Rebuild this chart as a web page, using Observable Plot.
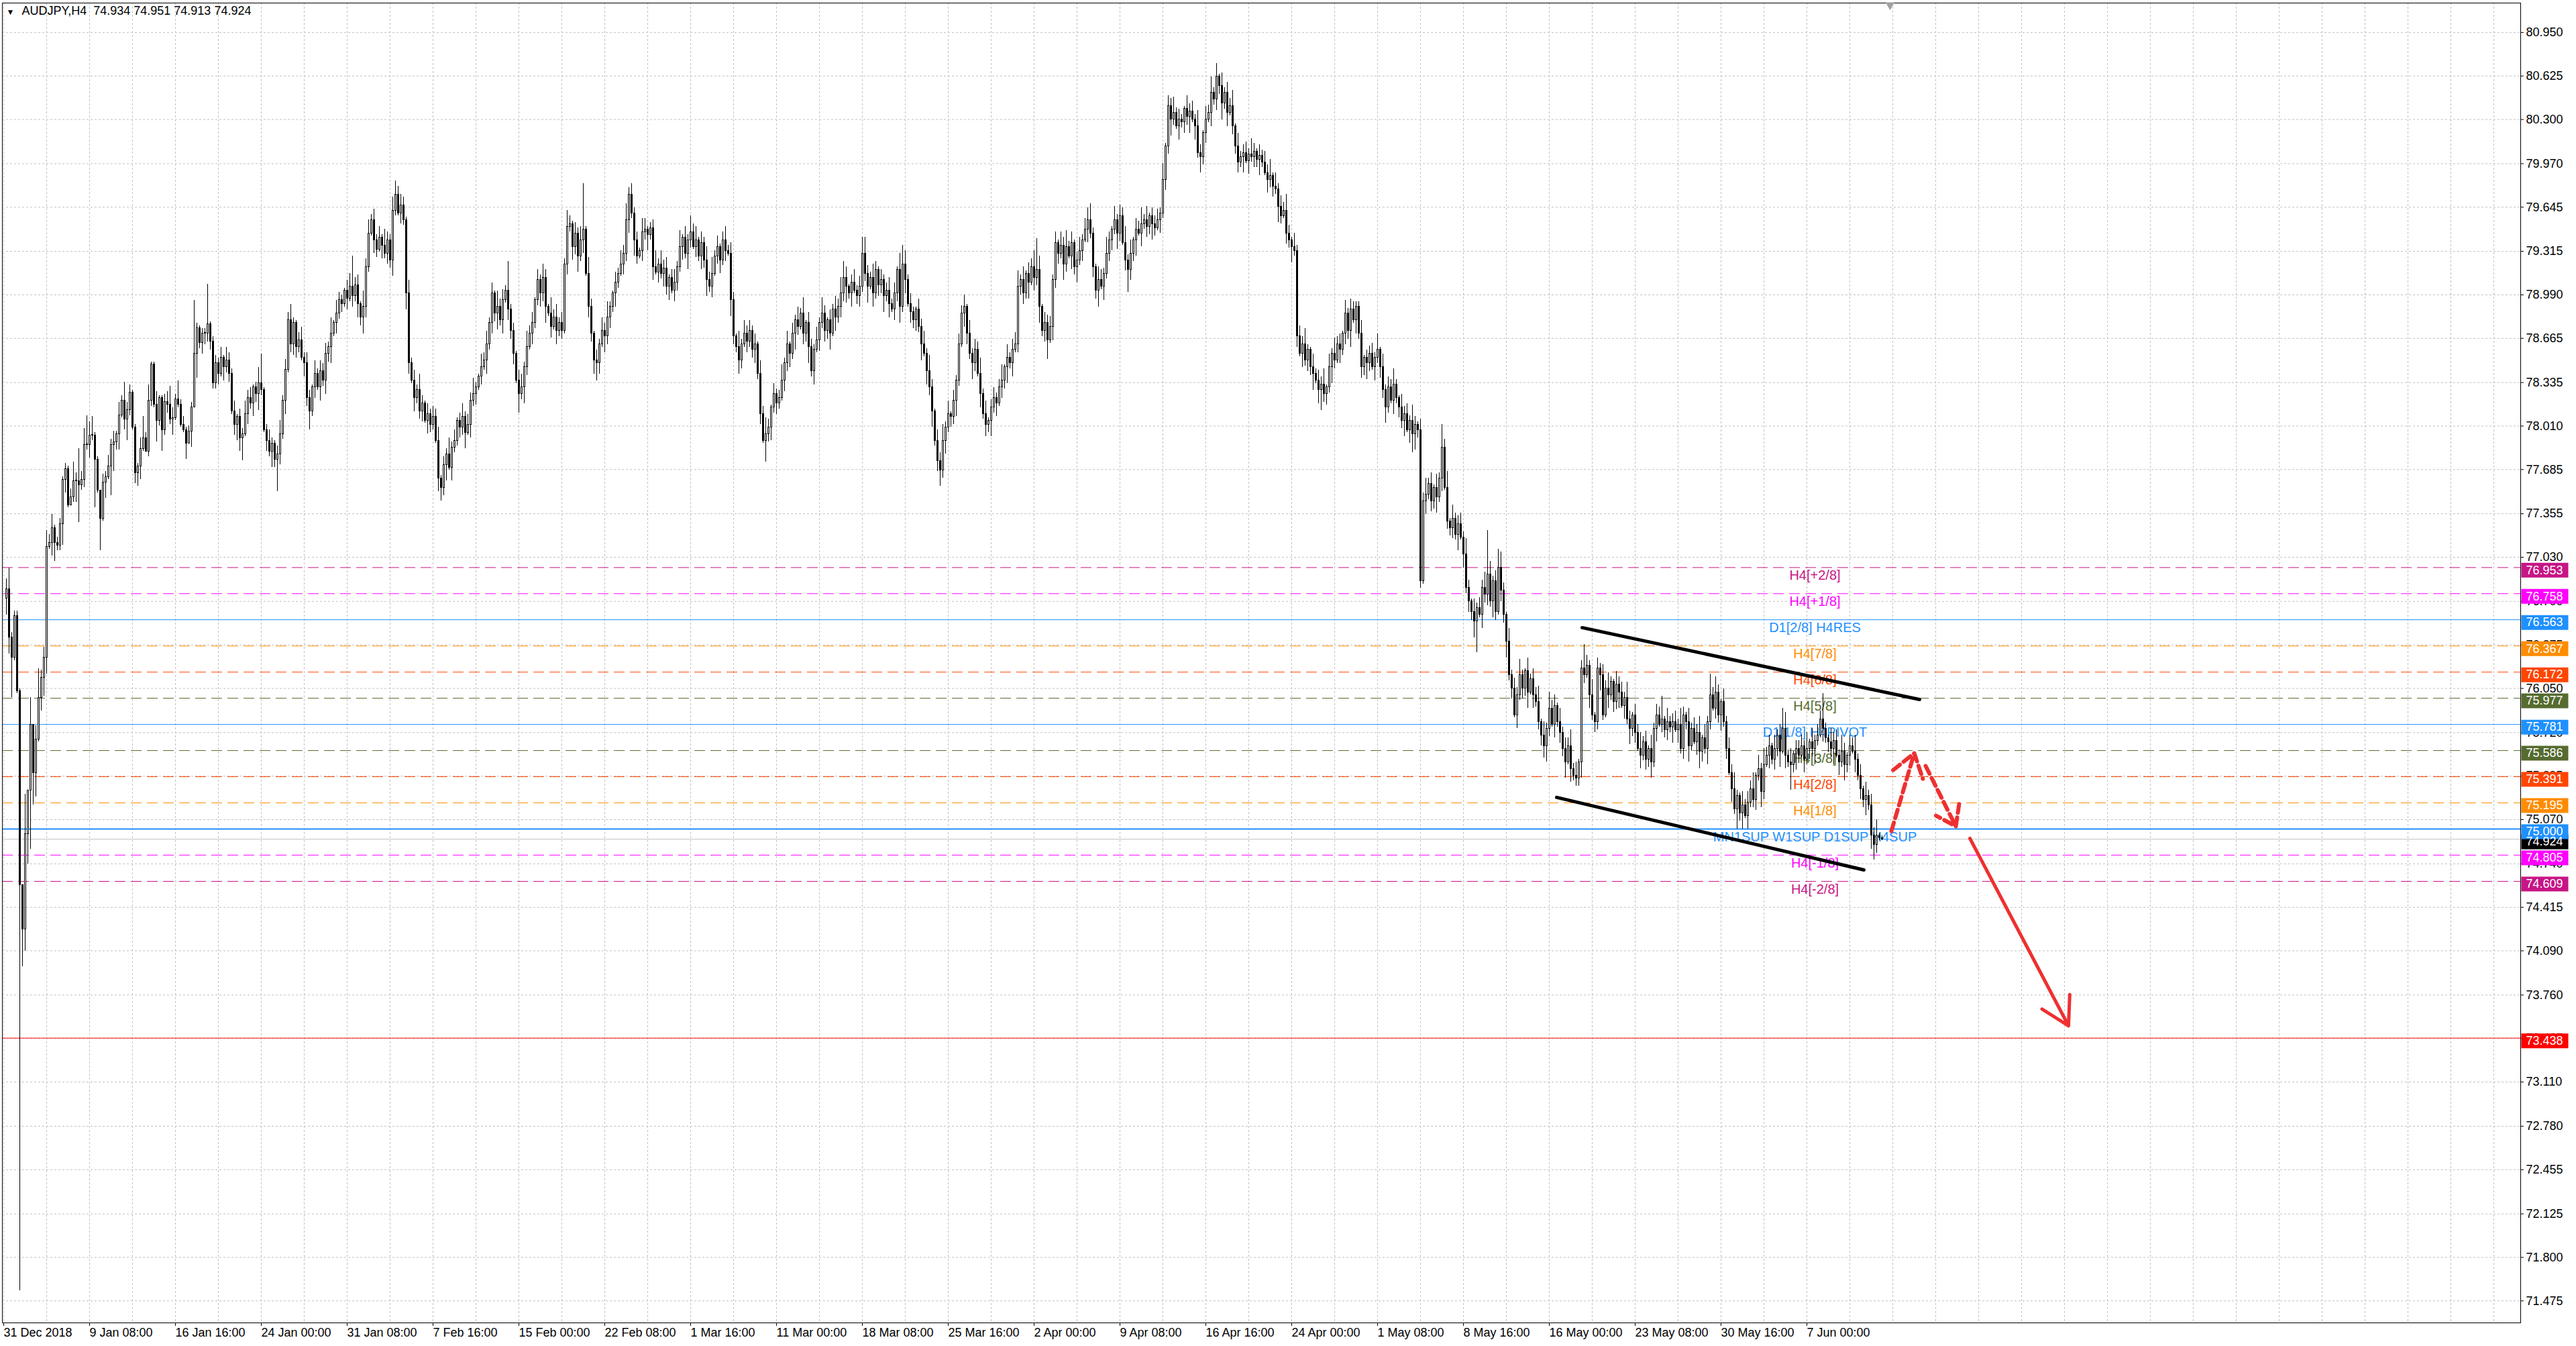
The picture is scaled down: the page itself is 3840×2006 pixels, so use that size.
<!DOCTYPE html>
<html><head><meta charset="utf-8">
<script src="https://cdn.jsdelivr.net/npm/d3@7"></script>
<script src="https://cdn.jsdelivr.net/npm/@observablehq/plot@0.6"></script>
<style>html,body{margin:0;padding:0;background:#fff;overflow:hidden}#chart svg{display:block}</style>
</head><body><div id="chart"></div><script>
// ---------------- DATA ----------------
const symbolTitle = "AUDJPY,H4";
const lastBarOHLC = [74.934, 74.951, 74.913, 74.924];
const firstOpen = 76.72;
const closes = [
76.79,76.43,76.28,76.59,76.03,74.58,74.25,74.96,75.29,75.78,
75.42,75.67,75.98,76.13,76.28,77.11,77.14,77.25,77.14,77.12,
77.28,77.61,77.69,77.42,77.48,77.60,77.60,77.57,77.61,77.87,
77.87,77.94,77.94,77.76,77.53,77.32,77.59,77.63,77.71,77.87,
77.89,77.95,78.09,78.20,78.06,78.13,78.26,78.00,77.66,77.71,
77.84,77.92,77.82,78.20,78.47,78.17,78.05,78.22,77.98,78.19,
78.17,78.06,78.07,78.21,78.17,78.02,77.98,77.88,77.97,78.15,
78.55,78.74,78.63,78.70,78.70,78.77,78.64,78.33,78.48,78.40,
78.52,78.45,78.50,78.40,78.12,78.02,78.08,77.92,77.95,78.10,
78.22,78.18,78.30,78.25,78.33,78.28,77.98,77.90,77.82,77.88,
77.76,77.80,77.95,78.20,78.43,78.80,78.62,78.78,78.60,78.65,
78.52,78.48,78.22,78.12,78.30,78.40,78.30,78.42,78.35,78.55,
78.60,78.70,78.78,78.85,78.95,78.92,79.02,78.96,79.05,78.98,
79.06,78.92,78.82,78.90,79.20,79.45,79.55,79.40,79.33,79.42,
79.36,79.30,79.40,79.25,79.62,79.74,79.60,79.66,79.55,79.00,
78.48,78.35,78.22,78.28,78.12,78.18,78.05,78.10,78.02,78.08,
77.90,77.62,77.55,77.72,77.80,77.70,77.85,77.90,78.05,78.00,
78.08,77.96,78.02,78.20,78.25,78.30,78.38,78.45,78.50,78.62,
78.78,79.00,78.85,78.90,78.80,78.95,79.02,78.88,78.72,78.55,
78.35,78.25,78.30,78.45,78.60,78.70,78.78,78.95,79.10,79.00,
79.12,78.90,78.85,78.75,78.82,78.72,78.78,78.72,79.22,79.50,
79.52,79.35,79.45,79.28,79.40,79.48,79.15,78.90,78.70,78.50,
78.48,78.62,78.72,78.68,78.82,78.90,79.00,79.08,79.15,79.22,
79.30,79.55,79.74,79.60,79.40,79.28,79.32,79.46,79.48,79.44,
79.49,79.20,79.16,79.22,79.15,79.19,79.05,79.12,79.02,79.08,
79.20,79.35,79.42,79.30,79.40,79.46,79.35,79.40,79.28,79.38,
79.25,79.10,79.05,79.15,79.28,79.35,79.25,79.40,79.32,79.30,
78.95,78.68,78.60,78.50,78.62,78.70,78.64,78.72,78.58,78.62,
78.40,78.10,77.90,77.95,78.00,78.15,78.25,78.18,78.22,78.35,
78.48,78.62,78.55,78.70,78.80,78.75,78.85,78.70,78.78,78.60,
78.42,78.58,78.65,78.78,78.85,78.72,78.80,78.70,78.88,78.82,
78.90,79.00,79.12,79.05,79.00,79.08,79.02,78.98,79.05,79.30,
79.15,79.05,79.12,79.00,79.18,79.06,79.10,78.98,79.02,78.92,
78.88,79.00,79.18,78.90,79.22,79.10,78.92,78.86,78.80,78.88,
78.75,78.62,78.55,78.42,78.30,78.12,77.90,77.75,77.68,77.90,
78.00,78.10,78.08,78.20,78.35,78.62,78.85,78.90,78.70,78.55,
78.48,78.58,78.40,78.25,78.10,78.02,78.05,78.15,78.22,78.18,
78.30,78.35,78.45,78.52,78.48,78.58,78.62,79.05,79.10,79.00,
79.15,79.08,79.20,79.12,79.18,78.90,78.72,78.78,78.65,78.75,
79.10,79.38,79.30,79.36,79.22,79.35,79.28,79.38,79.20,79.25,
79.32,79.40,79.48,79.55,79.45,79.20,79.02,79.10,79.05,79.15,
79.30,79.40,79.48,79.55,79.45,79.58,79.38,79.25,79.18,79.30,
79.40,79.48,79.45,79.52,79.55,79.50,79.58,79.52,79.49,79.55,
79.60,79.85,80.10,80.40,80.30,80.35,80.25,80.30,80.28,80.38,
80.32,80.36,80.30,80.25,80.05,80.02,80.20,80.30,80.35,80.50,
80.45,80.62,80.55,80.42,80.50,80.35,80.40,80.25,80.10,79.98,
80.02,80.05,79.99,80.04,80.02,80.06,80.00,80.03,79.98,79.90,
79.85,79.88,79.80,79.78,79.65,79.58,79.62,79.45,79.40,79.35,
79.32,78.68,78.55,78.62,78.50,78.58,78.45,78.40,78.35,78.28,
78.32,78.25,78.30,78.45,78.55,78.50,78.62,78.58,78.70,78.85,
78.72,78.88,78.80,78.90,78.70,78.45,78.52,78.48,78.55,78.45,
78.52,78.58,78.45,78.28,78.15,78.30,78.20,78.32,78.22,78.15,
78.05,78.10,77.98,78.05,77.95,78.02,77.98,76.85,77.45,77.50,
77.58,77.45,77.55,77.48,77.62,77.85,77.55,77.30,77.25,77.32,
77.20,77.28,77.18,77.05,76.80,76.70,76.62,76.55,76.65,76.60,
76.80,76.75,76.90,76.70,76.85,76.62,76.95,76.78,76.60,76.40,
76.15,76.05,75.85,76.00,76.15,76.05,76.18,76.02,76.12,76.00,
75.95,75.80,75.70,75.62,75.75,75.90,75.78,75.92,75.80,75.72,
75.60,75.50,75.62,75.45,75.40,75.38,75.50,76.20,76.15,76.22,
76.00,75.85,75.80,76.20,76.15,75.85,76.05,76.00,76.10,75.95,
76.08,76.02,75.92,75.98,75.82,75.75,75.85,75.72,75.60,75.55,
75.65,75.52,75.60,75.50,75.75,75.85,75.78,75.82,75.74,75.80,
75.76,75.80,75.74,75.78,75.60,75.85,75.80,75.62,75.75,75.65,
75.72,75.58,75.68,75.60,75.80,76.00,75.90,76.02,75.85,75.95,
75.80,75.60,75.42,75.30,75.15,75.25,75.12,75.18,75.10,75.20,
75.30,75.22,75.40,75.45,75.28,75.48,75.55,75.62,75.52,75.60,
75.70,75.58,75.75,75.55,75.50,75.48,75.56,75.60,75.55,75.62,
75.52,75.60,75.65,75.60,75.66,75.70,75.82,75.75,75.68,75.65,
75.60,75.66,75.55,75.50,75.58,75.48,75.55,75.62,75.58,75.52,
75.40,75.30,75.22,75.25,75.18,74.95,74.88,74.95,74.934,74.924
];
// wick lengths per candle, base-36 digits in units of 0.02
const upWickDigits = [
"4822210f0a","05b3463512","2121373c36","b571103242","4152733111","4826115113","4742723122","k2122f12",
"3241532413","2534126312","4213524362","1352431524","3426153214","5234163524","2416325134","3152426314",
"2435132624","1352436215","3524163425","2314526341","4253163524","2631425316","3142536214","2536142315",
"4123625341","3526142635","1425362413","5243162534","2415363142","3625142536","1432526314","2536241352",
"4163253142","3524163524","2143526314","3625142436","1524362513","4236152436","2514362514","3426153624",
"1352436215","4263152436","2514362513","3426153624","2153426315","3624152436","1523426314","2436152436",
"3152436215","2436152634","1524362513","3426152436","2153426314","3624152436","1523426315","2436152436",
"3152436215","2436152634","1524362513","3426152436","2153426314","3624152436","1523426315","2436152436",
"3152436215","2436152634","1524362513","3426152436","2153426314","3624152436","11"
].join("");
const downWickDigits = [
"66f110e8bm","c915761572","2851028e23","252i1c161b","a361482145","5102218282","3261111606","09244332",
"2415231425","3142536214","2631425134","4215362415","2536142314","1425364215","3152436214","2641523415",
"3215436152","2436152413","1524362514","3415263142","2536141523","1425362514","3524163425","2143526314",
"3625142536","1432526314","2536241352","4163253142","3524163524","2143526314","3625142436","1524362513",
"4236152436","2514362514","3426153624","1352436215","4263152436","2514362513","3426153624","2153426315",
"3624152436","1523426314","2436152436","3152436215","2436152634","1524362513","3426152436","2153426314",
"3624152436","1523426315","2436152436","3152436215","2436152634","1524362513","3426152436","2153426314",
"3624152436","1523426315","2436152436","3152436215","2436152634","1524362513","3426152436","2153426314",
"3624152436","1523426315","2436152436","3152436215","2436152634","1524362513","11"
].join("");
// notable spikes [candle index, price]
const highSpikes = [[95,78.55],[129,79.28],[145,79.84],[187,79.24],[215,79.82],[232,79.79],[296,78.89],[312,79.24],
 [319,79.42],[334,79.36],[357,78.99],[376,78.71],[384,79.41],[391,79.46],[403,79.64],[433,80.48],[451,80.72],
 [503,78.94],[535,78.02],[552,77.23],[556,77.09],[588,76.38],[593,76.28],[617,75.99],[635,76.16],[662,75.90],
 [677,76.01],[699,74.951]];
const lowSpikes = [[5,71.55],[86,77.90],[88,77.75],[101,77.52],[113,77.98],[162,77.45],[191,78.11],[220,78.35],
 [247,78.95],[283,77.74],[348,77.56],[365,77.93],[388,78.51],[418,79.01],[445,79.90],[490,78.13],[524,77.81],
 [527,76.80],[548,76.32],[573,75.53],[585,75.32],[631,75.45],[645,75.00],[665,75.29],[696,74.77],[699,74.913]];

const xTickLabels = ["31 Dec 2018","9 Jan 08:00","16 Jan 16:00","24 Jan 00:00","31 Jan 08:00","7 Feb 16:00",
 "15 Feb 00:00","22 Feb 08:00","1 Mar 16:00","11 Mar 00:00","18 Mar 08:00","25 Mar 16:00","2 Apr 00:00",
 "9 Apr 08:00","16 Apr 16:00","24 Apr 00:00","1 May 08:00","8 May 16:00","16 May 00:00","23 May 08:00",
 "30 May 16:00","7 Jun 00:00"];
const yTickValues = [80.950,80.625,80.300,79.970,79.645,79.315,78.990,78.665,78.335,78.010,77.685,77.355,
 77.030,76.700,76.375,76.050,75.720,75.395,75.070,74.740,74.415,74.090,73.760,73.435,73.110,72.780,72.455,
 72.125,71.800,71.475];

const levelPrices = [76.953,76.758,76.563,76.367,76.172,75.977,75.781,75.586,75.391,75.195,75.000,74.805,74.609];
const levelLabels = ["H4[+2/8]","H4[+1/8]","D1[2/8] H4RES","H4[7/8]","H4[6/8]","H4[5/8]","D1[1/8] H4PIVOT",
 "H4[3/8]","H4[2/8]","H4[1/8]","MN1SUP W1SUP D1SUP H4SUP","H4[-1/8]","H4[-2/8]"];
const currentPrice = 74.924;
const targetPrice = 73.438;
const chartShiftBar = [703];
// channel lines and forecast arrows, in (bar position, price)
const channelLines = [
 {x1: 588.25, y1: 76.504, x2: 714, y2: 75.967},
 {x1: 578.75, y1: 75.236, x2: 693.25, y2: 74.694}
];
const dashedArrows = [
 {x1: 703.5, y1: 74.985, x2: 712, y2: 75.566},
 {x1: 716.25, y1: 75.471, x2: 727.5, y2: 75.02}
];
const solidArrows = [
 {x1: 732.75, y1: 74.93, x2: 769.5, y2: 73.53}
];

// ---------------- STYLE ----------------
const levelColors = ["#c71585","#ff00ff","#1e90ff","#ff8c00","#ff4500","#556b2f","#1e90ff","#556b2f",
 "#ff4500","#ff8c00","#1e90ff","#ff00ff","#c71585"];
const levelSolid = [false,false,true,false,false,false,true,false,false,false,true,false,false];
const font = "'Liberation Sans', Arial, sans-serif";
const gridColor = "#c0c0c0";
const arrowColor = "#ee3030";
const labelBar = 675;      // bar position where level captions are centred
const barsPerLabel = 32, barsPerGrid = 16;

// ---------------- BUILD ----------------
const hiMap = new Map(highSpikes), loMap = new Map(lowSpikes);
const candles = closes.map((c, j) => {
  const o = j === 0 ? firstOpen : closes[j - 1];
  const top = Math.max(o, c), bot = Math.min(o, c);
  const uw = (parseInt(upWickDigits[j] || "0", 36) || 0) * 0.02;
  const dw = (parseInt(downWickDigits[j] || "0", 36) || 0) * 0.02;
  return {pos: j + 1, open: o, close: c, top, bot: bot,
    bodyTop: Math.max(top, bot + 0.005),
    high: hiMap.has(j) ? hiMap.get(j) : top + uw,
    low: loMap.has(j) ? loMap.get(j) : bot - dw,
    up: c >= o};
});
const xTickPos = xTickLabels.map((_, k) => k * barsPerLabel);
const xLabelMap = new Map(xTickPos.map((p, k) => [p, xTickLabels[k]]));
const gridPos = d3.range(0, 938, barsPerGrid);
const levelIdx = levelPrices.map((_, i) => i);
const boxes = [{price: currentPrice, color: "black"}]
  .concat(levelPrices.map((p, i) => ({price: p, color: levelColors[i]})))
  .concat([{price: targetPrice, color: "#ff0000"}]);
const boxSymbol = {draw(ctx) { ctx.moveTo(-35, -11); ctx.lineTo(35, -11); ctx.lineTo(35, 11); ctx.lineTo(-35, 11); ctx.closePath(); }};
const title = symbolTitle + "\u00a0\u00a0" + lastBarOHLC.map(v => v.toFixed(3)).join(" ");

const chart = Plot.plot({
  width: 3840, height: 2006,
  marginLeft: 3, marginRight: 83, marginTop: 4, marginBottom: 35,
  style: {fontFamily: font, fontSize: "18px", background: "white", color: "black"},
  x: {domain: [-0.5, 938], ticks: xTickPos, tickFormat: d => xLabelMap.get(d) || "", tickSize: 5, tickPadding: 3, label: null},
  y: {domain: [71.311, 81.170], axis: "right", ticks: yTickValues, tickFormat: () => "", tickSize: 4, tickPadding: 4, label: null},
  marks: [
    Plot.ruleY(yTickValues, {y: d => d, stroke: gridColor, strokeDasharray: "3,3"}),
    Plot.ruleX(gridPos, {x: d => d, stroke: gridColor, strokeDasharray: "3,3"}),
    Plot.text(yTickValues, {y: d => d, text: d => d.toFixed(3), frameAnchor: "right", dx: 8, textAnchor: "start", fill: "black", fontSize: 18}),
    Plot.ruleY(levelIdx.filter(i => !levelSolid[i]), {y: i => levelPrices[i], stroke: i => levelColors[i], strokeDasharray: "16,8"}),
    Plot.ruleY(levelIdx.filter(i => levelSolid[i]), {y: i => levelPrices[i], stroke: i => levelColors[i], strokeWidth: i => levelPrices[i] === 75 ? 2 : 1}),
    Plot.ruleY([currentPrice], {y: d => d, stroke: "#c0c0c0"}),
    Plot.ruleY([targetPrice], {y: d => d, stroke: "#ff0000"}),
    Plot.text(levelIdx, {x: labelBar, y: i => levelPrices[i], text: i => levelLabels[i], fill: i => levelColors[i], dy: 12, fontSize: 20, textAnchor: "middle"}),
    Plot.ruleX(candles, {x: "pos", y1: "low", y2: "high", stroke: "black", strokeWidth: 1, shapeRendering: "crispEdges"}),
    Plot.rect(candles, {x1: d => d.pos - 0.25, x2: d => d.pos + 0.25, y1: "bot", y2: "bodyTop", fill: d => d.up ? "white" : "black", stroke: "black", strokeWidth: 1, shapeRendering: "crispEdges"}),
    Plot.link(channelLines, {x1: "x1", y1: "y1", x2: "x2", y2: "y2", stroke: "black", strokeWidth: 5, strokeLinecap: "round"}),
    Plot.arrow(dashedArrows, {x1: "x1", y1: "y1", x2: "x2", y2: "y2", stroke: arrowColor, strokeWidth: 6, strokeDasharray: "13,7", headLength: 16, headAngle: 70}),
    Plot.arrow(solidArrows, {x1: "x1", y1: "y1", x2: "x2", y2: "y2", stroke: arrowColor, strokeWidth: 5, headLength: 14, headAngle: 60}),
    Plot.dot(boxes, {y: "price", frameAnchor: "right", dx: 36, dy: 4, symbol: boxSymbol, fill: "color", r: 5}),
    Plot.text(boxes, {y: "price", text: d => d.price.toFixed(3), frameAnchor: "right", dx: 8, dy: 4, textAnchor: "start", fill: "white", fontSize: 18}),
    Plot.text([title], {text: d => d, frameAnchor: "top-left", dx: 29, dy: 5, textAnchor: "start", lineAnchor: "top", fontSize: 18}),
    Plot.text(["\u25BC"], {text: d => d, frameAnchor: "top-left", dx: 6, dy: 9, textAnchor: "start", lineAnchor: "top", fontSize: 12}),
    Plot.frame({stroke: "black"}),
    Plot.dot(chartShiftBar, {x: d => d, frameAnchor: "top", symbol: "triangle", rotate: 180, r: 5, fill: "#a0a0a0", stroke: null, dy: 3})
  ]
});
chart.querySelectorAll('[aria-label^="x-axis"] text').forEach(t => t.setAttribute("text-anchor", "start"));
document.getElementById("chart").appendChild(chart);
</script></body></html>
